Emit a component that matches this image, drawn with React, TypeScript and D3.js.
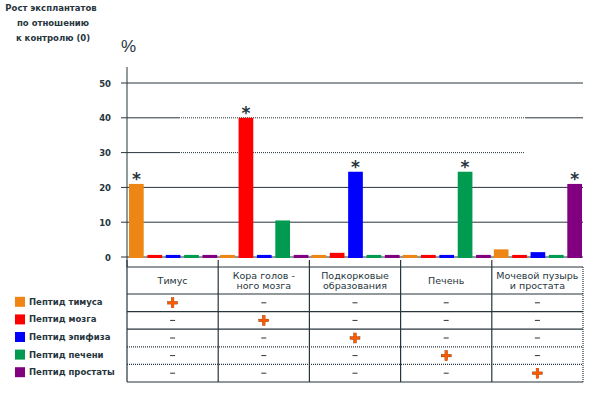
import React from 'react';
import * as d3 from 'd3';

const categories = ['Тимус', 'Кора головного мозга', 'Подкорковые образования', 'Печень', 'Мочевой пузырь и простата'];
const categoryLines = [['Тимус'], ['Кора голов -', 'ного мозга'], ['Подкорковые', 'образования'], ['Печень'], ['Мочевой пузырь', 'и простата']];
const seriesNames = ['Пептид тимуса', 'Пептид мозга', 'Пептид эпифиза', 'Пептид печени', 'Пептид простаты'];
const seriesColors = ['#ee8616', '#ff0000', '#0000ff', '#009a50', '#800080'];

const thymusValues = [21, 0.6, 0.6, 0.6, 2.2];
const brainValues = [0.6, 40, 1.2, 0.6, 0.6];
const epiphysisValues = [0.6, 0.6, 24.5, 0.6, 1.4];
const liverValues = [0.6, 10.5, 0.6, 24.5, 0.6];
const prostateValues = [0.6, 0.6, 0.6, 0.6, 21];
const seriesValues = [thymusValues, brainValues, epiphysisValues, liverValues, prostateValues];

const yTicks = [0, 10, 20, 30, 40, 50];
const titleLines = ['Рост эксплантатов', 'по отношению', 'к контролю (0)'];

const INK = '#27353d';
const FONT = '"DejaVu Sans", Verdana, sans-serif';

const App: React.FC = () => {
  const width = 597;
  const height = 394;

  const x = d3.scaleBand<string>().domain(categories).range([127, 583]).padding(0);
  const inner = d3.scaleBand<string>().domain(seriesNames).range([2, x.bandwidth() - 1]).paddingInner(0.2);
  const y = d3.scaleLinear().domain([0, 50]).range([257, 83]);

  const gridLeft = 121;
  const gridRight = 583;

  // table geometry
  const tableTop = 267;
  const headerBottom = 294;
  const rowH = 17.6;
  const rowY = (i: number) => headerBottom + i * rowH;
  const tableBottom = rowY(seriesNames.length);

  return (
    <div style={{ position: 'fixed', left: 0, top: 0 }}>
      <svg width={width} height={height} style={{ display: 'block', background: '#fff', fontFamily: FONT }}>
        {/* title */}
        {titleLines.map((t, i) => (
          <text key={t} x={i === 0 ? 51 : 53} y={11 + i * 15} textAnchor="middle" fontSize={8.5} fontWeight="bold" fill={INK}>
            {t}
          </text>
        ))}
        <text x={121} y={52} fontSize={17} fontFamily='"Liberation Sans", Arial, sans-serif' fill={INK}>%</text>

        {/* gridlines */}
        {yTicks.map(t => {
          const yy = y(t);
          if (t === 30 || t === 40) {
            return (
              <g key={t}>
                <line x1={gridLeft} x2={179} y1={yy} y2={yy} stroke={INK} strokeWidth={1} />
                <line x1={179} x2={525} y1={yy} y2={yy} stroke={INK} strokeWidth={1} strokeDasharray="1,1" />
                {t === 40 && <line x1={525} x2={gridRight} y1={yy} y2={yy} stroke={INK} strokeWidth={1} />}
              </g>
            );
          }
          return <line key={t} x1={gridLeft} x2={gridRight} y1={yy} y2={yy} stroke={INK} strokeWidth={1} />;
        })}

        {/* y axis */}
        <line x1={127} x2={127} y1={67} y2={tableTop} stroke={INK} strokeWidth={1} />
        {yTicks.map(t => (
          <text key={t} x={111} y={y(t) + 3.5} textAnchor="end" fontSize={8.5} fontWeight="bold" fill={INK}>
            {t}
          </text>
        ))}

        {/* bars */}
        {categories.map((c, ci) => (
          <g key={c} transform={`translate(${x(c)},0)`}>
            {seriesNames.map((s, si) => {
              const v = seriesValues[si][ci];
              const bx = inner(s) as number;
              const top = y(v);
              return (
                <g key={s}>
                  <rect x={bx} y={top} width={inner.bandwidth()} height={y(0) - top + 1} fill={seriesColors[si]} />
                  {si === ci && (
                    <text x={bx + inner.bandwidth() / 2} y={top + 1} textAnchor="middle" fontSize={17} fontWeight="bold" fill={INK}>
                      *
                    </text>
                  )}
                </g>
              );
            })}
          </g>
        ))}

        {/* table */}
        <g stroke={INK} strokeWidth={1.2} fill="none">
          <line x1={127} x2={583} y1={tableTop} y2={tableTop} />
          <line x1={127} x2={583} y1={headerBottom} y2={headerBottom} />
          {seriesNames.map((s, i) => (
            <line key={s} x1={127} x2={583} y1={rowY(i + 1)} y2={rowY(i + 1)} strokeDasharray={i === 2 || i === 3 ? '1,1' : undefined} />
          ))}
          {categories.map(c => (
            <line key={c} x1={x(c) as number} x2={x(c) as number} y1={260} y2={tableBottom} />
          ))}
          <line x1={583} x2={583} y1={tableTop} y2={tableBottom} strokeDasharray="1,1" />
        </g>
        {categories.map((c, ci) => {
          const cx = (x(c) as number) + x.bandwidth() / 2;
          const lines = categoryLines[ci];
          const mid = (tableTop + headerBottom) / 2;
          return (
            <g key={c}>
              {lines.map((l, li) => (
                <text key={l} x={cx} y={mid + 3.5 + (li - (lines.length - 1) / 2) * 10.5} textAnchor="middle" fontSize={9.5} fill={INK}>
                  {l}
                </text>
              ))}
              {seriesNames.map((s, si) => {
                const cy = rowY(si) + rowH / 2;
                return si === ci ? (
                  <g key={s} transform={`translate(${cx},${cy})`}>
                    <rect x={-1.3} y={-5} width={2.6} height={10} fill="#ff5a00" stroke="#6a2a00" strokeWidth={0.4} />
                    <rect x={-5} y={-1.3} width={10} height={2.6} fill="#ff5a00" stroke="#6a2a00" strokeWidth={0.4} />
                    <rect x={-1.2} y={-4.9} width={2.4} height={9.8} fill="#ff5a00" />
                  </g>
                ) : (
                  <line key={s} x1={cx - 2.5} x2={cx + 2.5} y1={cy} y2={cy} stroke={INK} strokeWidth={1} />
                );
              })}
            </g>
          );
        })}

        {/* legend */}
        {seriesNames.map((s, i) => {
          const cy = rowY(i) + rowH / 2 - 1;
          return (
            <g key={s}>
              <rect x={15} y={cy - 5} width={10} height={10} fill={seriesColors[i]} />
              <text x={29} y={cy + 3} fontSize={8.5} fontWeight="bold" fill={INK}>
                {s}
              </text>
            </g>
          );
        })}
      </svg>
    </div>
  );
};

export default App;
